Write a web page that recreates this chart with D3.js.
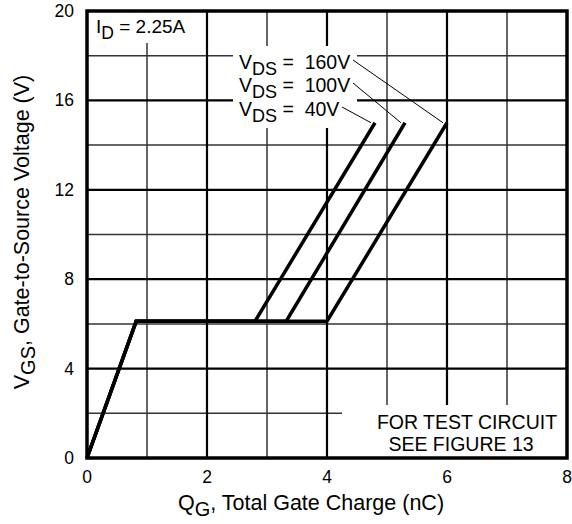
<!DOCTYPE html>
<html><head><meta charset="utf-8">
<script src="https://cdn.jsdelivr.net/npm/d3@7"></script>
<style>body{margin:0;background:#fff}svg{display:block}text{font-family:"Liberation Sans",Arial,sans-serif;fill:#000}</style>
</head><body>
<svg id="c" width="572" height="524"></svg>
<script>
// Data
const xTicks = [0, 2, 4, 6, 8];
const yTicks = [0, 4, 8, 12, 16, 20];
const xMinor = [1, 3, 5, 7];
const yMinor = [2, 6, 10, 14, 18];
const seriesNames = ["VDS = 40V", "VDS = 100V", "VDS = 160V"];
const seriesLabels = ["40V", "100V", "160V"];
// gate charge (nC) and Vgs (V) points per curve
const qg40  = [0, 0.82, 2.8, 4.8];
const vgs40 = [0, 6.12, 6.12, 15.0];
const qg100  = [0, 0.82, 3.32, 5.3];
const vgs100 = [0, 6.12, 6.12, 15.0];
const qg160  = [0, 0.82, 4.0, 6.0];
const vgs160 = [0, 6.12, 6.12, 15.0];

const svg = d3.select("#c");
const L = 87, R = 567, T = 11, B = 458;
const x = d3.scaleLinear().domain([0, 8]).range([L, R]);
const y = d3.scaleLinear().domain([0, 20]).range([B, T]);

// gridlines
const g = svg.append("g");
g.selectAll(".vm").data(xMinor).enter().append("line")
  .attr("x1", d => x(d)).attr("x2", d => x(d)).attr("y1", T).attr("y2", B)
  .attr("stroke", "#333").attr("stroke-width", 1.5);
g.selectAll(".hm").data(yMinor).enter().append("line")
  .attr("y1", d => y(d)).attr("y2", d => y(d)).attr("x1", L).attr("x2", R)
  .attr("stroke", "#333").attr("stroke-width", 1.5);
g.selectAll(".vM").data(xTicks.slice(1, -1)).enter().append("line")
  .attr("x1", d => x(d)).attr("x2", d => x(d)).attr("y1", T).attr("y2", B)
  .attr("stroke", "#000").attr("stroke-width", 2.2);
g.selectAll(".hM").data(yTicks.slice(1, -1)).enter().append("line")
  .attr("y1", d => y(d)).attr("y2", d => y(d)).attr("x1", L).attr("x2", R)
  .attr("stroke", "#000").attr("stroke-width", 2.2);

// white boxes behind labels
svg.append("rect").attr("x", L).attr("y", T).attr("width", 112).attr("height", 32).attr("fill", "#fff");
svg.append("rect").attr("x", 233).attr("y", 46).attr("width", 124).attr("height", 82).attr("fill", "#fff");
svg.append("rect").attr("x", 342).attr("y", 405).attr("width", R - 342).attr("height", B - 405).attr("fill", "#fff");

// curves
const curves = [[qg40, vgs40], [qg100, vgs100], [qg160, vgs160]];
const line = d3.line().x(d => x(d[0])).y(d => y(d[1]));
curves.forEach(([qs, vs]) => {
  svg.append("path").attr("d", line(qs.map((q, i) => [q, vs[i]])))
    .attr("fill", "none").attr("stroke", "#000").attr("stroke-width", 3.5)
    .attr("stroke-linejoin", "miter");
});

// labels + leaders
const labelBase = [116, 92, 69];
const labelEndX = [342, 353, 353];
seriesLabels.forEach((lab, i) => {
  const t = svg.append("text").attr("x", 239).attr("y", labelBase[i]).attr("font-size", 19.5);
  t.append("tspan").text("V");
  t.append("tspan").attr("font-size", 18).attr("dy", 6).text("DS");
  t.append("tspan").attr("dy", -6).attr("xml:space", "preserve").text(" =  " + lab);
  const qs = curves[i][0], vs = curves[i][1];
  svg.append("line").attr("x1", labelEndX[i]).attr("y1", labelBase[i] - 9)
    .attr("x2", x(qs[qs.length - 1]) - 4).attr("y2", y(vs[vs.length - 1]))
    .attr("stroke", "#000").attr("stroke-width", 1);
});

// ID label
const idt = svg.append("text").attr("x", 96).attr("y", 33).attr("font-size", 19);
idt.append("tspan").text("I");
idt.append("tspan").attr("font-size", 17.5).attr("dy", 6).text("D");
idt.append("tspan").attr("dy", -6).text(" = 2.25A");

// test circuit note
svg.append("text").attr("x", 467).attr("y", 429).attr("text-anchor", "middle").attr("font-size", 19.5).text("FOR TEST CIRCUIT");
svg.append("text").attr("x", 461).attr("y", 451).attr("text-anchor", "middle").attr("font-size", 19.5).text("SEE FIGURE 13");

// frame
svg.append("rect").attr("x", L).attr("y", T).attr("width", R - L).attr("height", B - T)
  .attr("fill", "none").attr("stroke", "#000").attr("stroke-width", 3.5);

// tick labels
svg.selectAll(".xt").data(xTicks).enter().append("text")
  .attr("x", d => x(d)).attr("y", 483).attr("text-anchor", "middle").attr("font-size", 17.5).text(d => d);
svg.selectAll(".yt").data(yTicks).enter().append("text")
  .attr("x", 74).attr("y", d => y(d) + 6).attr("text-anchor", "end").attr("font-size", 17.5).text(d => d);

// axis titles
const xt = svg.append("text").attr("x", 311).attr("y", 510).attr("text-anchor", "middle").attr("font-size", 21.5);
xt.append("tspan").text("Q");
xt.append("tspan").attr("font-size", 20).attr("dy", 6).text("G");
xt.append("tspan").attr("dy", -6).text(", Total Gate Charge (nC)");
const yt = svg.append("text").attr("transform", "translate(29,232) rotate(-90)").attr("text-anchor", "middle").attr("font-size", 21.5);
yt.append("tspan").text("V");
yt.append("tspan").attr("font-size", 20).attr("dy", 6).text("GS");
yt.append("tspan").attr("dy", -6).text(", Gate-to-Source Voltage (V)");
</script>
</body></html>
